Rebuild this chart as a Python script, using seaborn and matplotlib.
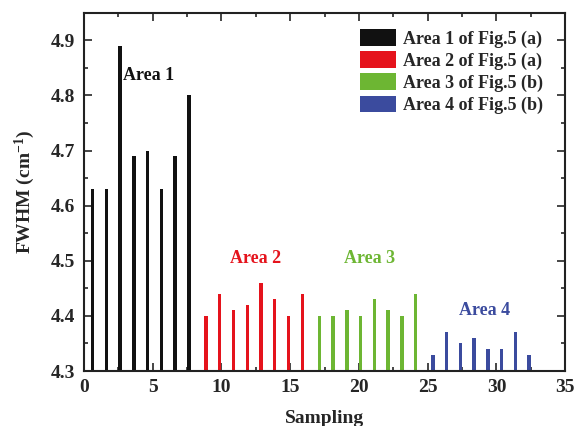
import numpy as np
import pandas as pd
import matplotlib
matplotlib.use("Agg")
import matplotlib.pyplot as plt
from matplotlib.ticker import MultipleLocator
import seaborn as sns

# FWHM values for each sampling point, grouped by measurement area
area1 = [4.63, 4.63, 4.89, 4.69, 4.70, 4.63, 4.69, 4.80]
area2 = [4.40, 4.44, 4.41, 4.42, 4.46, 4.43, 4.40, 4.44]
area3 = [4.40, 4.40, 4.41, 4.40, 4.43, 4.41, 4.40, 4.44]
area4 = [4.33, 4.37, 4.35, 4.36, 4.34, 4.34, 4.37, 4.33]

series_names = ["Area 1 of Fig.5 (a)", "Area 2 of Fig.5 (a)",
                "Area 3 of Fig.5 (b)", "Area 4 of Fig.5 (b)"]
series_colors = ["#111111", "#E5131C", "#6DB633", "#3B4B9E"]
area_titles = ["Area 1", "Area 2", "Area 3", "Area 4"]

sampling = list(range(1, 33))
values = area1 + area2 + area3 + area4
groups = [name for name in series_names for _ in range(8)]
df = pd.DataFrame({"Sampling": sampling, "FWHM": values, "Area": groups})

sns.set_theme(style="ticks")
plt.rcParams["font.family"] = ["Liberation Serif", "DejaVu Serif"]
plt.rcParams["font.weight"] = "bold"
plt.rcParams["mathtext.fontset"] = "custom"
plt.rcParams["mathtext.rm"] = "Liberation Serif:bold"
plt.rcParams["mathtext.default"] = "rm"

fig = plt.figure(figsize=(5.75, 4.26), dpi=100)
ax = fig.add_axes([0.146, 0.129, 0.837, 0.841])

sns.barplot(data=df, x="Sampling", y="FWHM", hue="Area",
            hue_order=series_names, palette=series_colors,
            native_scale=True, dodge=True, width=1.0, errorbar=None,
            saturation=1, linewidth=0, ax=ax)

ax.set_xlim(0, 35)
ax.set_ylim(4.3, 4.95)
ax.xaxis.set_major_locator(MultipleLocator(5))
ax.xaxis.set_minor_locator(MultipleLocator(2.5))
ax.yaxis.set_major_locator(MultipleLocator(0.1))
ax.yaxis.set_minor_locator(MultipleLocator(0.05))
ax.set_xticklabels([str(int(t)) for t in ax.get_xticks()])
ax.tick_params(which="both", direction="in", top=True, right=True,
               labelsize=14, width=1.2, pad=6)
ax.tick_params(which="major", length=6)
ax.tick_params(which="minor", length=3)
for lab in ax.get_xticklabels() + ax.get_yticklabels():
    lab.set_fontweight("bold")
for sp in ax.spines.values():
    sp.set_linewidth(1.5)
    sp.set_color("#222222")

ax.set_xlabel("Sampling", fontsize=14, fontweight="bold", labelpad=10)
ax.set_ylabel("FWHM (cm$^{-1}$)", fontsize=14, fontweight="bold", labelpad=10)

# Area captions above each group
ax.text(2.85, 4.837, area_titles[0], color=series_colors[0], fontsize=13,
        fontweight="bold", ha="left", va="center")
ax.text(12.5, 4.505, area_titles[1], color=series_colors[1], fontsize=13,
        fontweight="bold", ha="center", va="center")
ax.text(20.8, 4.505, area_titles[2], color=series_colors[2], fontsize=13,
        fontweight="bold", ha="center", va="center")
ax.text(29.1, 4.409, area_titles[3], color=series_colors[3], fontsize=13,
        fontweight="bold", ha="center", va="center")

handles, labels = ax.get_legend_handles_labels()
leg = ax.legend(handles, labels, loc="upper right", frameon=False,
                fontsize=13, handlelength=2.0, handleheight=1.05,
                handletextpad=0.4, labelspacing=0.2,
                bbox_to_anchor=(0.98, 0.99), borderaxespad=0.3)
for t in leg.get_texts():
    t.set_fontweight("bold")

fig.savefig("out.png", dpi=100)
